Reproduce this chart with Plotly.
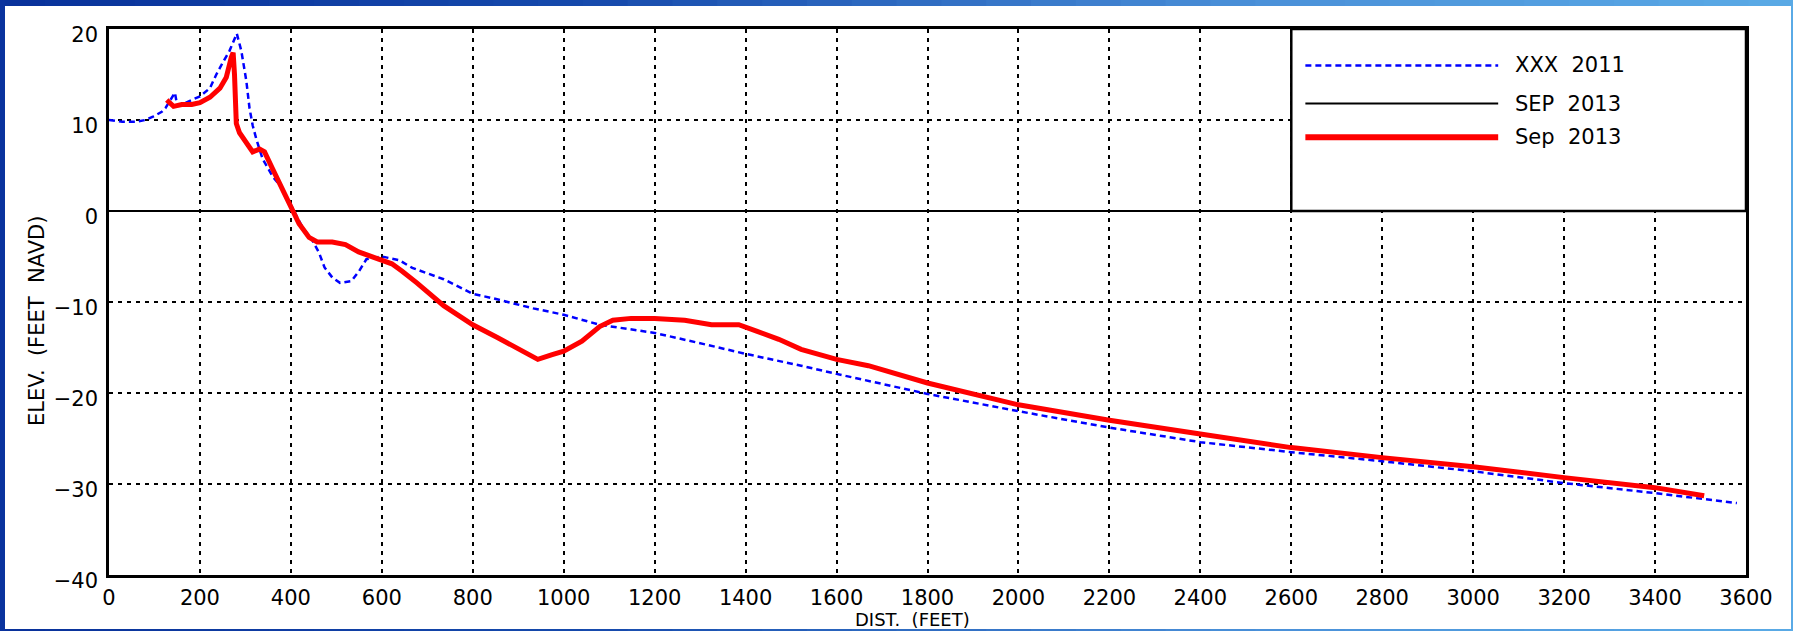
import plotly.graph_objects as go

# ---------------- data ----------------
dist_2011 = [0, 29, 58, 80, 98, 116, 124, 132, 145, 150, 165, 182, 200, 222, 236, 250, 265, 281,
             291, 302, 309, 316, 324, 338, 360, 382, 404, 425, 447, 462, 474, 491, 508, 533, 550,
             566, 600, 638, 667, 736, 800, 845, 933, 1000, 1079, 1200, 1306, 1400, 1522, 1600,
             1800, 2000, 2200, 2400, 2600, 2800, 3000, 3200, 3400, 3580]
elev_2011 = [10.0, 9.8, 9.8, 10.0, 10.4, 10.9, 11.3, 12.0, 13.0, 11.6, 11.8, 12.2, 12.6, 13.5, 15.0,
             16.3, 17.6, 19.5, 17.6, 14.3, 11.3, 9.4, 7.9, 5.7, 3.8, 2.4, 0.3, -1.75, -3.2, -4.6,
             -6.2, -7.3, -7.9, -7.7, -6.6, -5.3, -5.0, -5.4, -6.25, -7.5, -9.1, -9.6, -10.7, -11.4,
             -12.5, -13.4, -14.6, -15.7, -17.0, -17.9, -20.1, -22.0, -23.8, -25.4, -26.5, -27.5,
             -28.6, -29.9, -31.0, -32.1]

dist_2013 = [127, 142, 160, 182, 200, 222, 244, 258, 269, 273, 276, 280, 287, 302, 316, 331, 342,
             360, 382, 400, 418, 440, 458, 491, 520, 549, 593, 622, 644, 677, 736, 800, 854, 893,
             943, 973, 1000, 1040, 1079, 1108, 1148, 1200, 1266, 1325, 1385, 1424, 1473, 1522,
             1600, 1670, 1740, 1800, 2000, 2200, 2400, 2600, 2800, 3000, 3200, 3400, 3508]
elev_2013 = [12.2, 11.5, 11.7, 11.7, 11.9, 12.5, 13.5, 14.7, 16.9, 17.4, 15.0, 9.6, 8.6, 7.4, 6.5,
             6.8, 6.5, 4.6, 2.4, 0.3, -1.4, -2.9, -3.4, -3.4, -3.7, -4.5, -5.2, -5.8, -6.6, -7.9,
             -10.4, -12.5, -13.9, -15.0, -16.3, -15.8, -15.4, -14.3, -12.7, -12.0, -11.8, -11.8,
             -12.0, -12.5, -12.5, -13.2, -14.1, -15.2, -16.3, -17.0, -18.0, -18.9, -21.3, -23.0,
             -24.5, -26.0, -27.1, -28.1, -29.3, -30.4, -31.3]

x_ticks = list(range(0, 3601, 200))
y_ticks = [-40, -30, -20, -10, 0, 10, 20]

series_names = ["XXX \u00a02011", "SEP \u00a02013", "Sep \u00a02013"]
series_colors = ["#0000ff", "#000000", "#ff0000"]

# ---------------- layout constants ----------------
FIG_W, FIG_H = 1793, 631
ML, MR, MT, MB = 109, 47, 29, 56
PW = FIG_W - ML - MR
PH = FIG_H - MT - MB
FONT = "DejaVu Sans, Verdana, sans-serif"
FS = 21


def px_x(p):
    return (p - ML) / PW


def px_y(p):
    return (FIG_H - MB - p) / PH


fig = go.Figure()

fig.add_trace(go.Scatter(x=dist_2011, y=elev_2011, mode="lines", name=series_names[0],
                         line=dict(color=series_colors[0], width=2.5, dash="6px,4px"),
                         showlegend=False))
fig.add_trace(go.Scatter(x=[], y=[], mode="lines", name=series_names[1],
                         line=dict(color=series_colors[1], width=2), showlegend=False))
fig.add_trace(go.Scatter(x=dist_2013, y=elev_2013, mode="lines", name=series_names[2],
                         line=dict(color=series_colors[2], width=5), showlegend=False))

shapes = []
# legend box (covers the grid in the upper right)
shapes.append(dict(type="rect", xref="x", yref="y", x0=2600, x1=3600, y0=0, y1=20,
                   fillcolor="white", line=dict(color="black", width=2.5), layer="between"))
# legend samples
leg_y = [16.0, 11.8, 8.1]
leg_dash = ["6px,4px", "solid", "solid"]
leg_w = [2.5, 2, 6]
for i in range(3):
    shapes.append(dict(type="line", xref="x", yref="y", x0=2631, x1=3055, y0=leg_y[i], y1=leg_y[i],
                       line=dict(color=series_colors[i], width=leg_w[i], dash=leg_dash[i]),
                       layer="above"))

annotations = []
for i in range(3):
    annotations.append(dict(x=3088, y=leg_y[i], xref="x", yref="y", text=series_names[i],
                            showarrow=False, xanchor="left", yanchor="middle",
                            font=dict(family=FONT, size=FS, color="black")))

annotations.append(dict(x=px_x(912), y=px_y(632), xref="paper", yref="paper",
                        text="DIST. \u00a0(FEET)", showarrow=False, xanchor="center",
                        yanchor="bottom", font=dict(family=FONT, size=18, color="black")))
annotations.append(dict(x=px_x(37), y=px_y(321), xref="paper", yref="paper",
                        text="ELEV. \u00a0(FEET \u00a0NAVD)", showarrow=False, textangle=-90,
                        xanchor="center", yanchor="middle",
                        font=dict(family=FONT, size=FS, color="black")))


# slide frame (blue gradient border)
def lerp_col(t):
    stops = [(0.0, (8, 49, 154)), (0.33, (22, 74, 172)), (0.70, (74, 144, 216)), (1.0, (90, 170, 230))]
    for (t0, c0), (t1, c1) in zip(stops[:-1], stops[1:]):
        if t <= t1:
            f = (t - t0) / (t1 - t0)
            c = [round(a + (b - a) * f) for a, b in zip(c0, c1)]
            return "rgb(%d,%d,%d)" % tuple(c)
    return "rgb(90,170,230)"


N = 40
for k in range(N):
    xa = FIG_W * k / N
    xb = FIG_W * (k + 1) / N + 1
    col = lerp_col((k + 0.5) / N)
    shapes.append(dict(type="rect", xref="paper", yref="paper", x0=px_x(xa), x1=px_x(xb),
                       y0=px_y(6), y1=px_y(0), fillcolor=col, line=dict(width=0), layer="above"))
    shapes.append(dict(type="rect", xref="paper", yref="paper", x0=px_x(xa), x1=px_x(xb),
                       y0=px_y(FIG_H), y1=px_y(FIG_H - 2), fillcolor=col, line=dict(width=0),
                       layer="above"))
shapes.append(dict(type="rect", xref="paper", yref="paper", x0=px_x(0), x1=px_x(5),
                   y0=px_y(FIG_H), y1=px_y(0), fillcolor="rgb(10,51,158)", line=dict(width=0),
                   layer="above"))
shapes.append(dict(type="rect", xref="paper", yref="paper", x0=px_x(FIG_W - 2), x1=px_x(FIG_W),
                   y0=px_y(FIG_H), y1=px_y(0), fillcolor="rgb(90,170,230)", line=dict(width=0),
                   layer="above"))

fig.update_layout(
    width=FIG_W, height=FIG_H,
    margin=dict(l=ML, r=MR, t=MT, b=MB, pad=0),
    paper_bgcolor="white", plot_bgcolor="white",
    showlegend=False,
    shapes=shapes, annotations=annotations,
    font=dict(family=FONT, size=FS, color="black"),
)
fig.update_xaxes(range=[0, 3600], tickmode="array", tickvals=x_ticks,
                 ticktext=[str(v) for v in x_ticks], showgrid=True, gridcolor="black",
                 gridwidth=1.6, griddash="4px,5px", zeroline=False, showline=True, mirror=True,
                 linecolor="black", linewidth=2.5, ticks="", ticklabelstandoff=2,
                 tickfont=dict(family=FONT, size=FS, color="black"))
fig.update_yaxes(range=[-40, 20], tickmode="array", tickvals=y_ticks, showgrid=True,
                 gridcolor="black", gridwidth=1.6, griddash="4px,5px", zeroline=True,
                 zerolinecolor="black", zerolinewidth=2, showline=True, mirror=True,
                 linecolor="black", linewidth=2.5, ticks="", ticklabelstandoff=4,
                 ticklabelshift=6, tickfont=dict(family=FONT, size=FS, color="black"))

fig.write_html("out.html", config={"displayModeBar": False},
               post_script="document.body.style.margin='0';")
